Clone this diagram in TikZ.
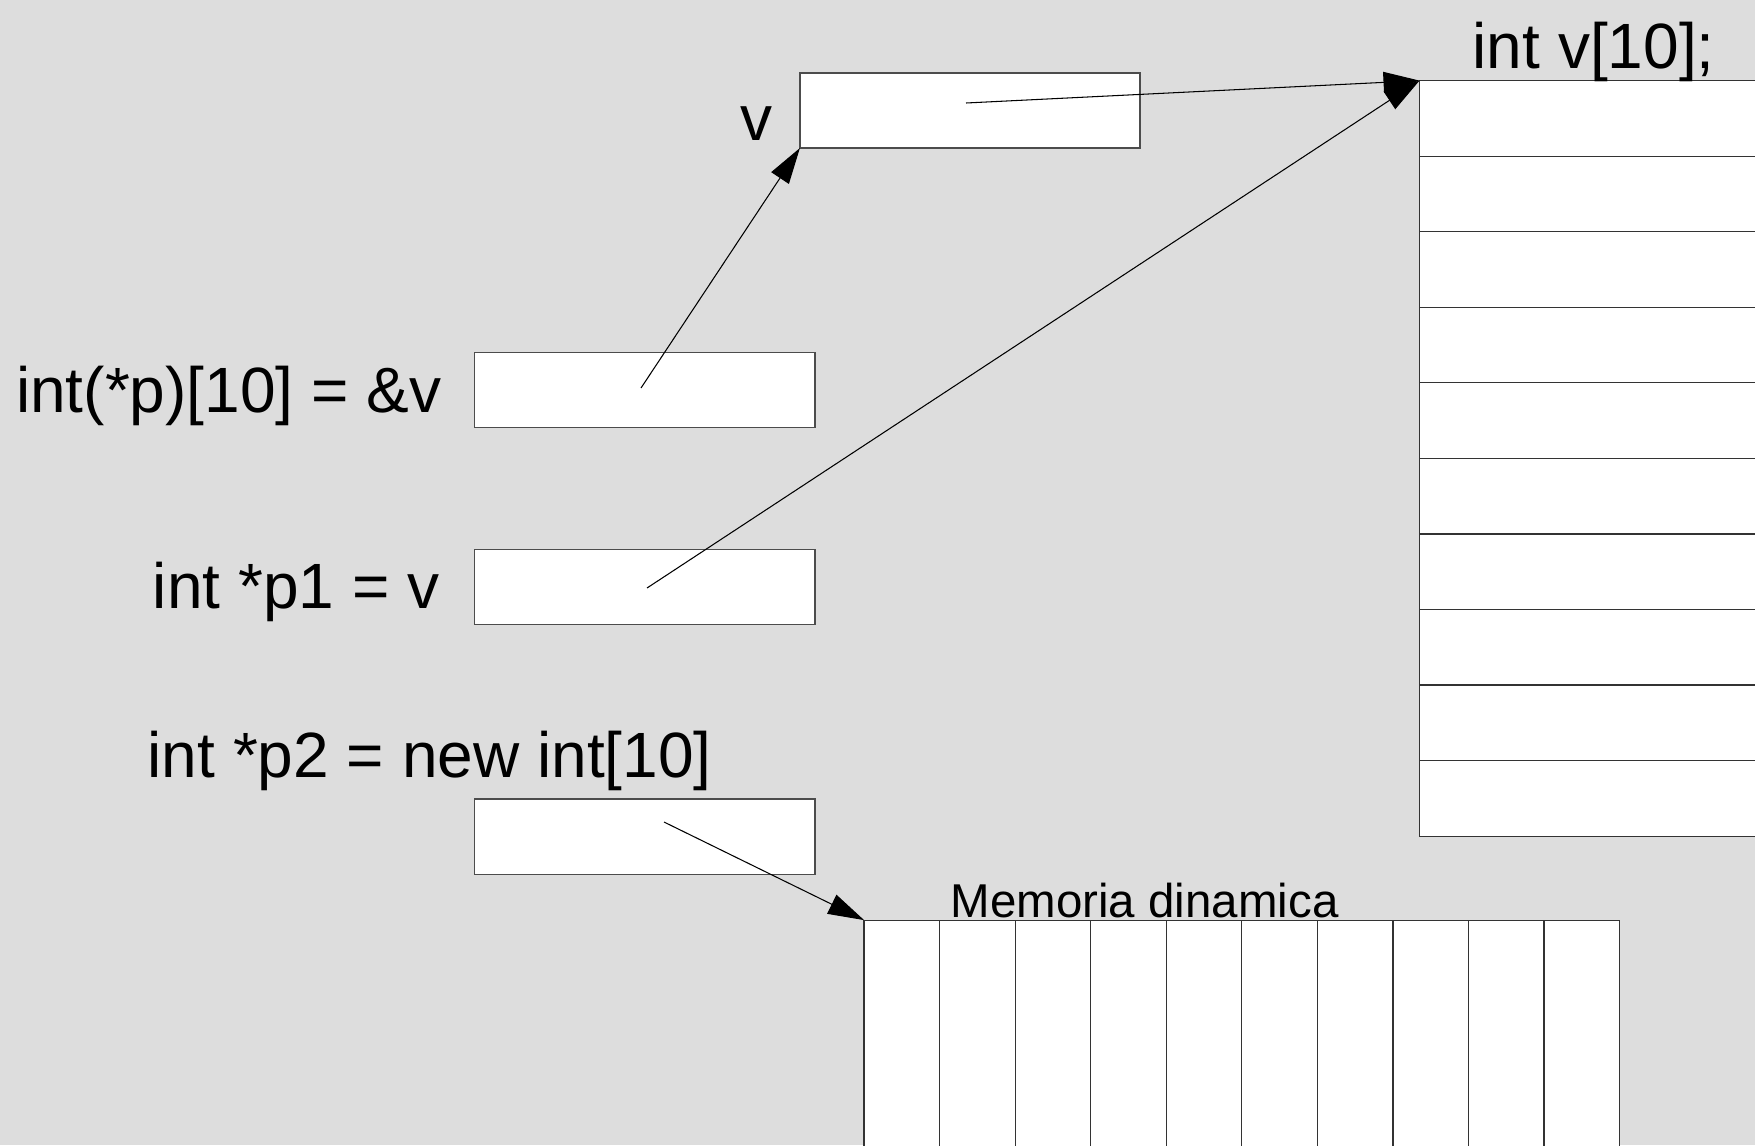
\documentclass[tikz,border=0pt]{standalone}
\usepackage{fontspec}
\setmainfont{Liberation Sans}
\usetikzlibrary{arrows.meta}
\definecolor{bggray}{HTML}{DDDDDD}

\begin{document}
\begin{tikzpicture}[x=0.01cm, y=-0.01cm,
    box/.style={draw=black!70, fill=white, line width=0.4pt, inner sep=0pt,
      outer sep=0pt, minimum width=3.4cm, minimum height=0.75cm},
    cell/.style={draw=black!80, fill=white, line width=0.35pt, inner sep=0pt,
      outer sep=0pt},
    ptr/.style={-{Triangle[length=0.36cm, width=0.21cm]}, line width=0.3pt},
    code/.style={inner sep=0pt, font=\fontsize{18.2}{22}\selectfont},
    small/.style={inner sep=0pt, font=\fontsize{13.5}{16}\selectfont}]
    \useasboundingbox (0,0) rectangle (1755,1145);
    \fill[bggray] (0,0) rectangle (1755,1145);
    % pointers
    \node[box] (v) at (970,110.5) {};
    \node[box] (p) at (644.7,390.1) {};
    \node[box] (p1) at (644.7,587.1) {};
    \node[box] (p2) at (644.7,836.7) {};
    % int v[10] and the dynamic array
    \foreach \i in {0,...,9}
      \node[cell, minimum width=3.6cm, minimum height=0.7555cm, anchor=north west]
        (a\i) at (1419.5,{80.6+75.55*\i}) {};
    \foreach \i in {0,...,9}
      \node[cell, minimum width=0.7555cm, minimum height=2.6cm, anchor=north west]
        (d\i) at ({864.1+75.55*\i},920.1) {};
    % labels
    \node[code, anchor=base east] (lv) at (773,140) {v};
    \node[code, anchor=base east] (lp) at (442,412) {int(*p)[10] = \&v};
    \node[code, anchor=base east] (lp1) at (440,608) {int *p1 = v};
    \node[code, anchor=base west] (lp2) at (147,777) {int *p2 = new int[10]};
    \node[code, anchor=base west] (la) at (1472,68) {int v[10];};
    \node[small, anchor=base west] (ld) at (950,917) {Memoria dinamica};
    % arrows
    \coordinate (tv) at (966,103);
    \coordinate (tp) at (641,388);
    \coordinate (tp1) at (647,588);
    \coordinate (tp2) at (664,822);
    \draw[ptr] (tp) -- (v.south west);
    \draw[ptr] (tv) -- (a0.north west);
    \draw[ptr] (tp1) -- (a0.north west);
    \draw[ptr] (tp2) -- (d0.north west);
\end{tikzpicture}
\end{document}
